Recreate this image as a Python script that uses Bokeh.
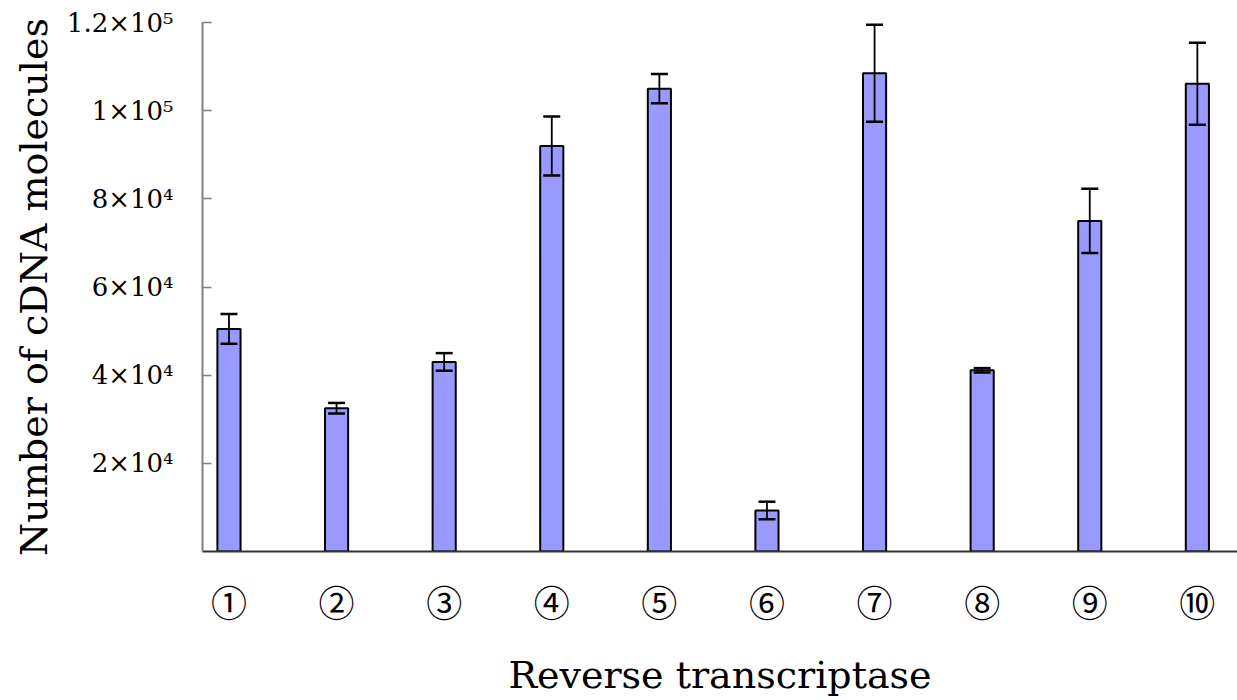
from bokeh.plotting import figure
from bokeh.models import ColumnDataSource, Whisker, TeeHead, FixedTicker, Range1d
from bokeh.embed import file_html
from bokeh.resources import INLINE

categories = ["①", "②", "③", "④", "⑤", "⑥", "⑦", "⑧", "⑨", "⑩"]
means = [50500, 32500, 43000, 92000, 105000, 9300, 108500, 41100, 75000, 106100]
errors = [3400, 1200, 2000, 6700, 3300, 2000, 11000, 500, 7300, 9300]
y_ticks = [20000, 40000, 60000, 80000, 100000, 120000]
y_tick_labels = ["2×10⁴", "4×10⁴", "6×10⁴", "8×10⁴", "1×10⁵", "1.2×10⁵"]

xs = list(range(1, len(categories) + 1))
source = ColumnDataSource(dict(
    x=xs,
    top=means,
    upper=[m + e for m, e in zip(means, errors)],
    lower=[m - e for m, e in zip(means, errors)],
))

SERIF = "DejaVu Serif"

p = figure(width=1237, height=700, output_backend="svg", toolbar_location=None,
           x_range=Range1d(0.754, 10.373), y_range=Range1d(0, 120000),
           min_border_left=202, min_border_right=0, min_border_top=22, min_border_bottom=149)
p.outline_line_color = None
p.xgrid.visible = False
p.ygrid.visible = False

p.vbar(x="x", top="top", width=0.215, bottom=0, source=source,
       fill_color="#9999ff", line_color="black", line_width=2)

w = Whisker(base="x", upper="upper", lower="lower", source=source, dimension="height",
            line_color="black", line_width=1.8, level="overlay",
            upper_head=TeeHead(size=17, line_width=2.5, line_color="black"),
            lower_head=TeeHead(size=17, line_width=2.5, line_color="black"))
p.add_layout(w)

# x axis
p.xaxis.ticker = FixedTicker(ticks=xs)
p.xaxis.major_label_overrides = {x: c for x, c in zip(xs, categories)}
p.xaxis.major_tick_line_color = None
p.xaxis.minor_tick_line_color = None
p.xaxis.axis_line_color = "#333333"
p.xaxis.axis_line_width = 2
p.xaxis.major_label_text_font = "Noto Sans CJK JP"
p.xaxis.major_label_text_font_size = "36px"
p.xaxis.major_label_text_color = "black"
p.xaxis.major_label_standoff = 17
p.xaxis.axis_label = "Reverse transcriptase"
p.xaxis.axis_label_text_font = SERIF
p.xaxis.axis_label_text_font_style = "normal"
p.xaxis.axis_label_text_font_size = "38px"
p.xaxis.axis_label_text_color = "black"
p.xaxis.axis_label_standoff = 23

# y axis
p.yaxis.ticker = FixedTicker(ticks=y_ticks)
p.yaxis.major_label_overrides = {t: l for t, l in zip(y_ticks, y_tick_labels)}
p.yaxis.major_tick_in = 9
p.yaxis.major_tick_out = 0
p.yaxis.major_tick_line_color = "#808080"
p.yaxis.major_tick_line_width = 1.5
p.yaxis.minor_tick_line_color = None
p.yaxis.axis_line_color = "#808080"
p.yaxis.axis_line_width = 2
p.yaxis.major_label_text_font = SERIF
p.yaxis.major_label_text_font_size = "26px"
p.yaxis.major_label_text_color = "black"
p.yaxis.major_label_standoff = 29
p.yaxis.axis_label = "Number of cDNA molecules"
p.yaxis.axis_label_text_font = SERIF
p.yaxis.axis_label_text_font_style = "normal"
p.yaxis.axis_label_text_font_size = "38px"
p.yaxis.axis_label_text_color = "black"
p.yaxis.axis_label_standoff = 8

open("out.html", "w").write(file_html(p, INLINE))
